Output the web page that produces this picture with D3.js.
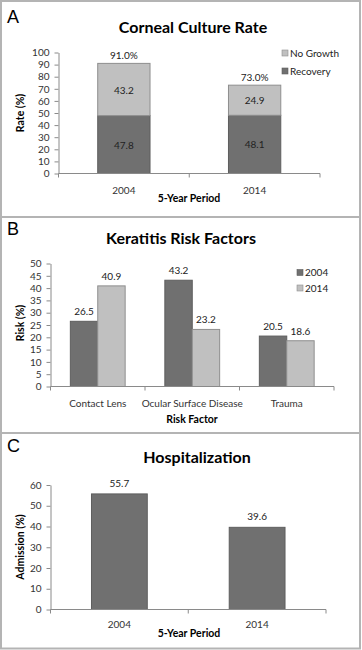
<!DOCTYPE html>
<html>
<head>
<meta charset="utf-8">
<script src="https://cdn.jsdelivr.net/npm/d3@7"></script>
<style>
  body { margin: 0; background: #fff; }
  svg { display: block; }
  text { font-family: Lato, "Open Sans", sans-serif; fill: #222; }
  .tick text { font-size: 10px; fill: #333; }
  .title { font-size: 16px; font-weight: bold; fill: #000; }
  .panel-label { font-family: "Liberation Sans", Arial, sans-serif; font-size: 18px; fill: #000; }
  .axis-title { font-size: 10.5px; font-weight: bold; fill: #000; }
  .value { font-size: 10px; fill: #222; }
  .legend text { font-size: 10px; fill: #222; }
</style>
</head>
<body>
<div id="chart"></div>
<script>
// panel A - corneal culture rate
const periods = ['2004', '2014'];
const recovery = [47.8, 48.1];
const noGrowth = [43.2, 24.9];

// panel B - keratitis risk factors
const riskFactors = ['Contact Lens', 'Ocular Surface Disease', 'Trauma'];
const riskYears = ['2004', '2014'];
const risk2004 = [26.5, 43.2, 20.5];
const risk2014 = [40.9, 23.2, 18.6];

// panel C - hospitalization
const admission = [55.7, 39.6];

const dark = '#707070', darkEdge = '#5e5e5e';
const light = '#c0c0c0', lightEdge = '#8e8e8e';
const axisColor = '#8a8a8a';

const svg = d3.select('#chart').append('svg')
  .attr('width', 362)
  .attr('height', 650);

// panel frames
[[1, 1, 359, 216], [1, 217, 359, 216], [1, 433, 359, 215.5]].forEach(p => {
  svg.append('rect')
    .attr('x', p[0]).attr('y', p[1])
    .attr('width', p[2]).attr('height', p[3])
    .attr('fill', 'none')
    .attr('stroke', '#b4b4b4')
    .attr('stroke-width', 2);
});

function styleAxis(g) {
  g.selectAll('.domain').attr('stroke', axisColor);
  g.selectAll('.tick line').attr('stroke', axisColor);
}

function drawYAxis(y, x0, ticks) {
  const g = svg.append('g')
    .attr('transform', `translate(${x0},0)`)
    .call(d3.axisLeft(y).tickValues(ticks).tickSize(4).tickSizeOuter(0).tickPadding(5));
  styleAxis(g);
  return g;
}

// x axis with ticks at the band edges, Excel style
function drawXAxis(x, yPos, labelDy) {
  const g = svg.append('g');
  const [r0, r1] = x.range();
  g.append('line')
    .attr('x1', r0).attr('x2', r1)
    .attr('y1', yPos).attr('y2', yPos)
    .attr('stroke', axisColor);
  const edges = x.domain().map(d => x(d)).concat([r1]);
  g.selectAll('.edge')
    .data(edges)
    .join('line')
    .attr('x1', d => d).attr('x2', d => d)
    .attr('y1', yPos).attr('y2', yPos + 4)
    .attr('stroke', axisColor);
  g.selectAll('.cat')
    .data(x.domain())
    .join('text')
    .attr('x', d => x(d) + x.bandwidth() / 2)
    .attr('y', yPos + labelDy)
    .attr('text-anchor', 'middle')
    .style('font-size', '10px')
    .style('fill', '#333')
    .text(d => d);
}

function panelText(label, title, titleX, labelY, titleY) {
  svg.append('text').attr('class', 'panel-label')
    .attr('x', 7).attr('y', labelY).text(label);
  svg.append('text').attr('class', 'title')
    .attr('x', titleX).attr('y', titleY)
    .attr('text-anchor', 'middle').text(title);
}

function axisTitles(xText, xPos, xY, yText, yX, yY) {
  svg.append('text').attr('class', 'axis-title')
    .attr('x', xPos).attr('y', xY)
    .attr('text-anchor', 'middle').text(xText);
  svg.append('text').attr('class', 'axis-title')
    .attr('transform', `translate(${yX},${yY}) rotate(-90)`)
    .attr('text-anchor', 'middle').text(yText);
}

// ---------- Panel A ----------
{
  const x = d3.scaleBand().domain(periods).range([58.5, 320]);
  const y = d3.scaleLinear().domain([0, 100]).range([173.5, 52.5]);
  const bw = x.bandwidth() * 0.4;

  panelText('A', 'Corneal Culture Rate', 193, 23, 33);
  drawYAxis(y, 58.5, d3.range(0, 101, 10));

  const stacked = periods.map((p, i) => ({ p, rec: recovery[i], ng: noGrowth[i] }));
  const cx = d => x(d.p) + x.bandwidth() / 2;

  svg.selectAll('.rec')
    .data(stacked)
    .join('rect')
    .attr('x', d => cx(d) - bw / 2)
    .attr('y', d => y(d.rec))
    .attr('width', bw)
    .attr('height', d => y(0) - y(d.rec))
    .attr('fill', dark)
    .attr('stroke', darkEdge);

  svg.selectAll('.ng')
    .data(stacked)
    .join('rect')
    .attr('x', d => cx(d) - bw / 2)
    .attr('y', d => y(d.rec + d.ng))
    .attr('width', bw)
    .attr('height', d => y(d.rec) - y(d.rec + d.ng))
    .attr('fill', light)
    .attr('stroke', lightEdge);

  svg.selectAll('.recval')
    .data(stacked)
    .join('text').attr('class', 'value')
    .attr('x', cx)
    .attr('y', d => y(d.rec / 2) + 4)
    .attr('text-anchor', 'middle')
    .text(d => d.rec.toFixed(1));

  svg.selectAll('.ngval')
    .data(stacked)
    .join('text').attr('class', 'value')
    .attr('x', cx)
    .attr('y', d => y(d.rec + d.ng / 2) + 4)
    .attr('text-anchor', 'middle')
    .text(d => d.ng.toFixed(1));

  // totals above the stacks
  svg.selectAll('.total')
    .data(stacked)
    .join('text').attr('class', 'value')
    .attr('x', cx)
    .attr('y', d => y(d.rec + d.ng) - 4)
    .attr('text-anchor', 'middle')
    .text(d => (d.rec + d.ng).toFixed(1) + '%');

  drawXAxis(x, 173.5, 20);
  axisTitles('5-Year Period', 189, 202, 'Rate (%)', 24, 113);

  const legend = svg.append('g').attr('class', 'legend');
  [['No Growth', light, lightEdge, 53], ['Recovery', dark, darkEdge, 71]].forEach(l => {
    legend.append('rect')
      .attr('x', 282).attr('y', l[3] - 3)
      .attr('width', 6).attr('height', 6)
      .attr('fill', l[1]).attr('stroke', l[2]).attr('stroke-width', 0.6);
    legend.append('text')
      .attr('x', 290).attr('y', l[3] + 3.5).text(l[0]);
  });
}

// ---------- Panel B ----------
{
  const x0 = d3.scaleBand().domain(riskFactors).range([50.5, 334]);
  const x1 = d3.scaleBand().domain(riskYears)
    .range([x0.bandwidth() * 0.21, x0.bandwidth() * 0.79]);
  const y = d3.scaleLinear().domain([0, 50]).range([386.5, 263.5]);

  panelText('B', 'Keratitis Risk Factors', 181, 235, 244);
  drawYAxis(y, 50.5, d3.range(0, 51, 5));

  const rows = riskFactors.map((f, i) => [
    { f, yr: '2004', v: risk2004[i] },
    { f, yr: '2014', v: risk2014[i] }
  ]).flat();

  svg.selectAll('.rb')
    .data(rows)
    .join('rect')
    .attr('x', d => x0(d.f) + x1(d.yr))
    .attr('y', d => y(d.v))
    .attr('width', x1.bandwidth())
    .attr('height', d => y(0) - y(d.v))
    .attr('fill', d => d.yr === '2004' ? dark : light)
    .attr('stroke', d => d.yr === '2004' ? darkEdge : lightEdge);

  svg.selectAll('.rv')
    .data(rows)
    .join('text').attr('class', 'value')
    .attr('x', d => x0(d.f) + x1(d.yr) + x1.bandwidth() / 2)
    .attr('y', d => y(d.v) - 6)
    .attr('text-anchor', 'middle')
    .text(d => d.v.toFixed(1));

  drawXAxis(x0, 386.5, 20);
  axisTitles('Risk Factor', 192, 423, 'Risk (%)', 24, 323);

  const legend = svg.append('g').attr('class', 'legend');
  [['2004', dark, darkEdge, 272.5], ['2014', light, lightEdge, 288]].forEach(l => {
    legend.append('rect')
      .attr('x', 297).attr('y', l[3] - 3)
      .attr('width', 6).attr('height', 6)
      .attr('fill', l[1]).attr('stroke', l[2]).attr('stroke-width', 0.6);
    legend.append('text')
      .attr('x', 305).attr('y', l[3] + 3.5).text(l[0]);
  });
}

// ---------- Panel C ----------
{
  const x = d3.scaleBand().domain(periods).range([50.5, 326]);
  const y = d3.scaleLinear().domain([0, 60]).range([609.5, 485]);
  const bw = x.bandwidth() * 0.405;

  panelText('C', 'Hospitalization', 197, 452, 463);
  drawYAxis(y, 50.5, d3.range(0, 61, 10));

  const rows = periods.map((p, i) => ({ p, v: admission[i] }));
  svg.selectAll('.cb')
    .data(rows)
    .join('rect')
    .attr('x', d => x(d.p) + x.bandwidth() / 2 - bw / 2)
    .attr('y', d => y(d.v))
    .attr('width', bw)
    .attr('height', d => y(0) - y(d.v))
    .attr('fill', dark)
    .attr('stroke', darkEdge);

  svg.selectAll('.cv')
    .data(rows)
    .join('text').attr('class', 'value')
    .attr('x', d => x(d.p) + x.bandwidth() / 2)
    .attr('y', d => y(d.v) - 7)
    .attr('text-anchor', 'middle')
    .text(d => d.v.toFixed(1));

  drawXAxis(x, 609.5, 18);
  axisTitles('5-Year Period', 189, 637, 'Admission (%)', 24, 547);
}
</script>
</body>
</html>
